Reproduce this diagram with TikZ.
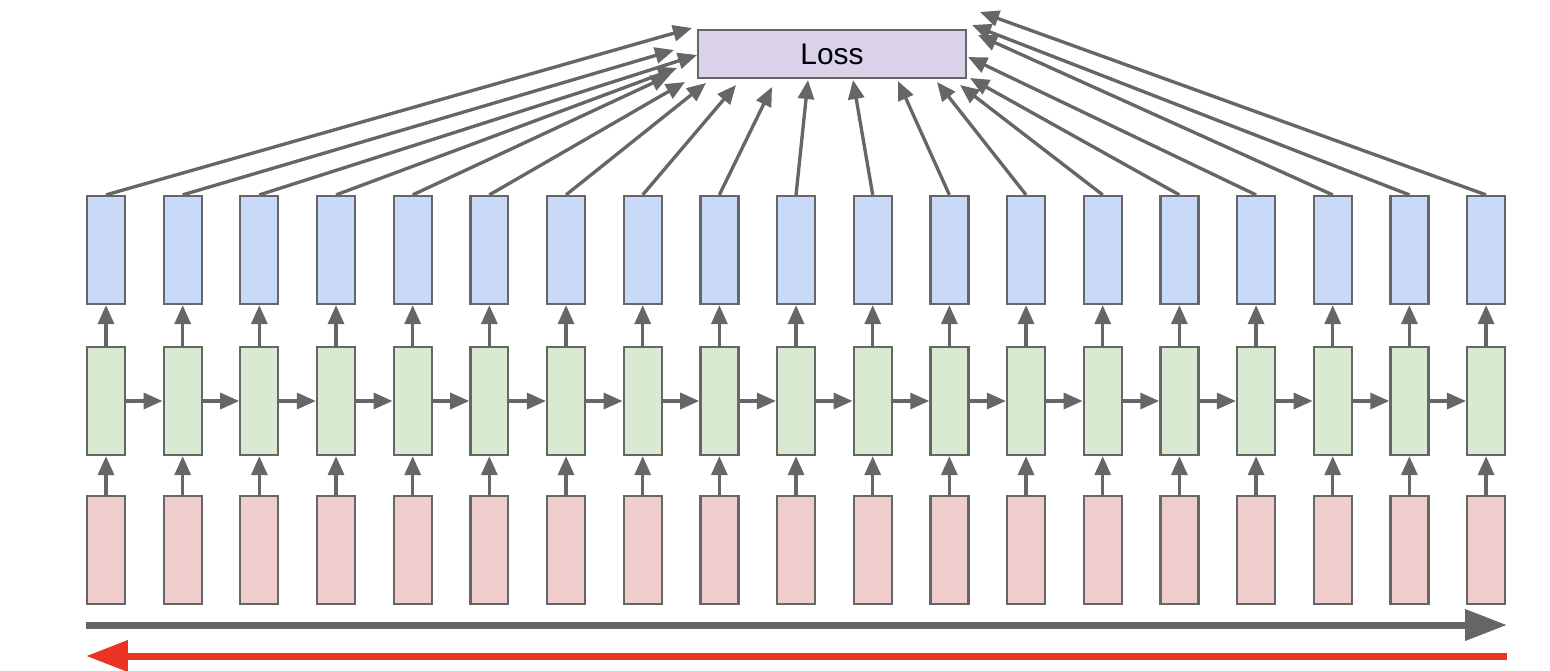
\documentclass[tikz,border=0pt]{standalone}
\usepackage{fontspec}
\setmainfont{Liberation Sans}
\usepackage{tikz}
\usetikzlibrary{arrows.meta, positioning}
\definecolor{edgegray}{RGB}{102, 102, 102}
\definecolor{outblue}{RGB}{201, 218, 248}
\definecolor{hidgreen}{RGB}{217, 234, 211}
\definecolor{inred}{RGB}{240, 205, 205}
\definecolor{losspurple}{RGB}{217, 210, 233}
\definecolor{backred}{RGB}{234, 51, 35}

\begin{document}
\begin{tikzpicture}[
    x=0.02cm, y=-0.02cm,
    cell/.style={draw=edgegray, line width=1.3pt, fill=#1, minimum width=0.76cm,
                 minimum height=2.16cm, inner sep=0pt},
    flow/.style={draw=edgegray, line width=1.9pt, -{Triangle[length=0.38cm, width=0.32cm]}},
    bigflow/.style={draw=#1, line width=4pt, -{Triangle[length=0.84cm, width=0.6cm]}}
]
    \useasboundingbox (0,0) rectangle (1550,670);
    \node[draw=edgegray, fill=losspurple, line width=1.3pt, minimum width=5.36cm,
          minimum height=0.96cm, font=\fontsize{17}{20}\selectfont] (loss) at (832,54) {Loss};

    % one column per time step
    \foreach \i [evaluate=\i as \cx using 106+76.67*\i] in {0,...,18} {
        \node[cell=outblue] (out\i) at (\cx,250) {};
        \node[cell=hidgreen] (hid\i) at (\cx,401) {};
        \node[cell=inred] (in\i) at (\cx,550) {};
        \draw[flow] (in\i) -- (hid\i);
        \draw[flow] (hid\i) -- (out\i);
    }
    \foreach \i [count=\j from 1] in {0,...,17}
        \draw[flow] (hid\i) -- (hid\j);

    % every output feeds the loss
    \foreach \i/\tx/\ty in {0/692/28, 1/674/50, 2/697/55, 3/677/68, 4/670/75,
                            5/685/82, 6/706/83, 7/736/85, 8/772/87, 9/808/80,
                            10/853/80, 11/898/81, 12/937/82, 13/960/85, 14/970/78,
                            15/968/57, 16/978/35, 17/972/25, 18/980/12} {
        \coordinate (tip\i) at (\tx,\ty);
        \draw[flow] (out\i.north) -- (tip\i);
    }

    \coordinate (fwdstart) at (86,625);
    \coordinate (fwdend) at (1507,625);
    \coordinate (backstart) at (1507,656);
    \coordinate (backend) at (86,656);
    \draw[bigflow=edgegray] (fwdstart) -- (fwdend);
    \draw[bigflow=backred] (backstart) -- (backend);
\end{tikzpicture}
\end{document}
